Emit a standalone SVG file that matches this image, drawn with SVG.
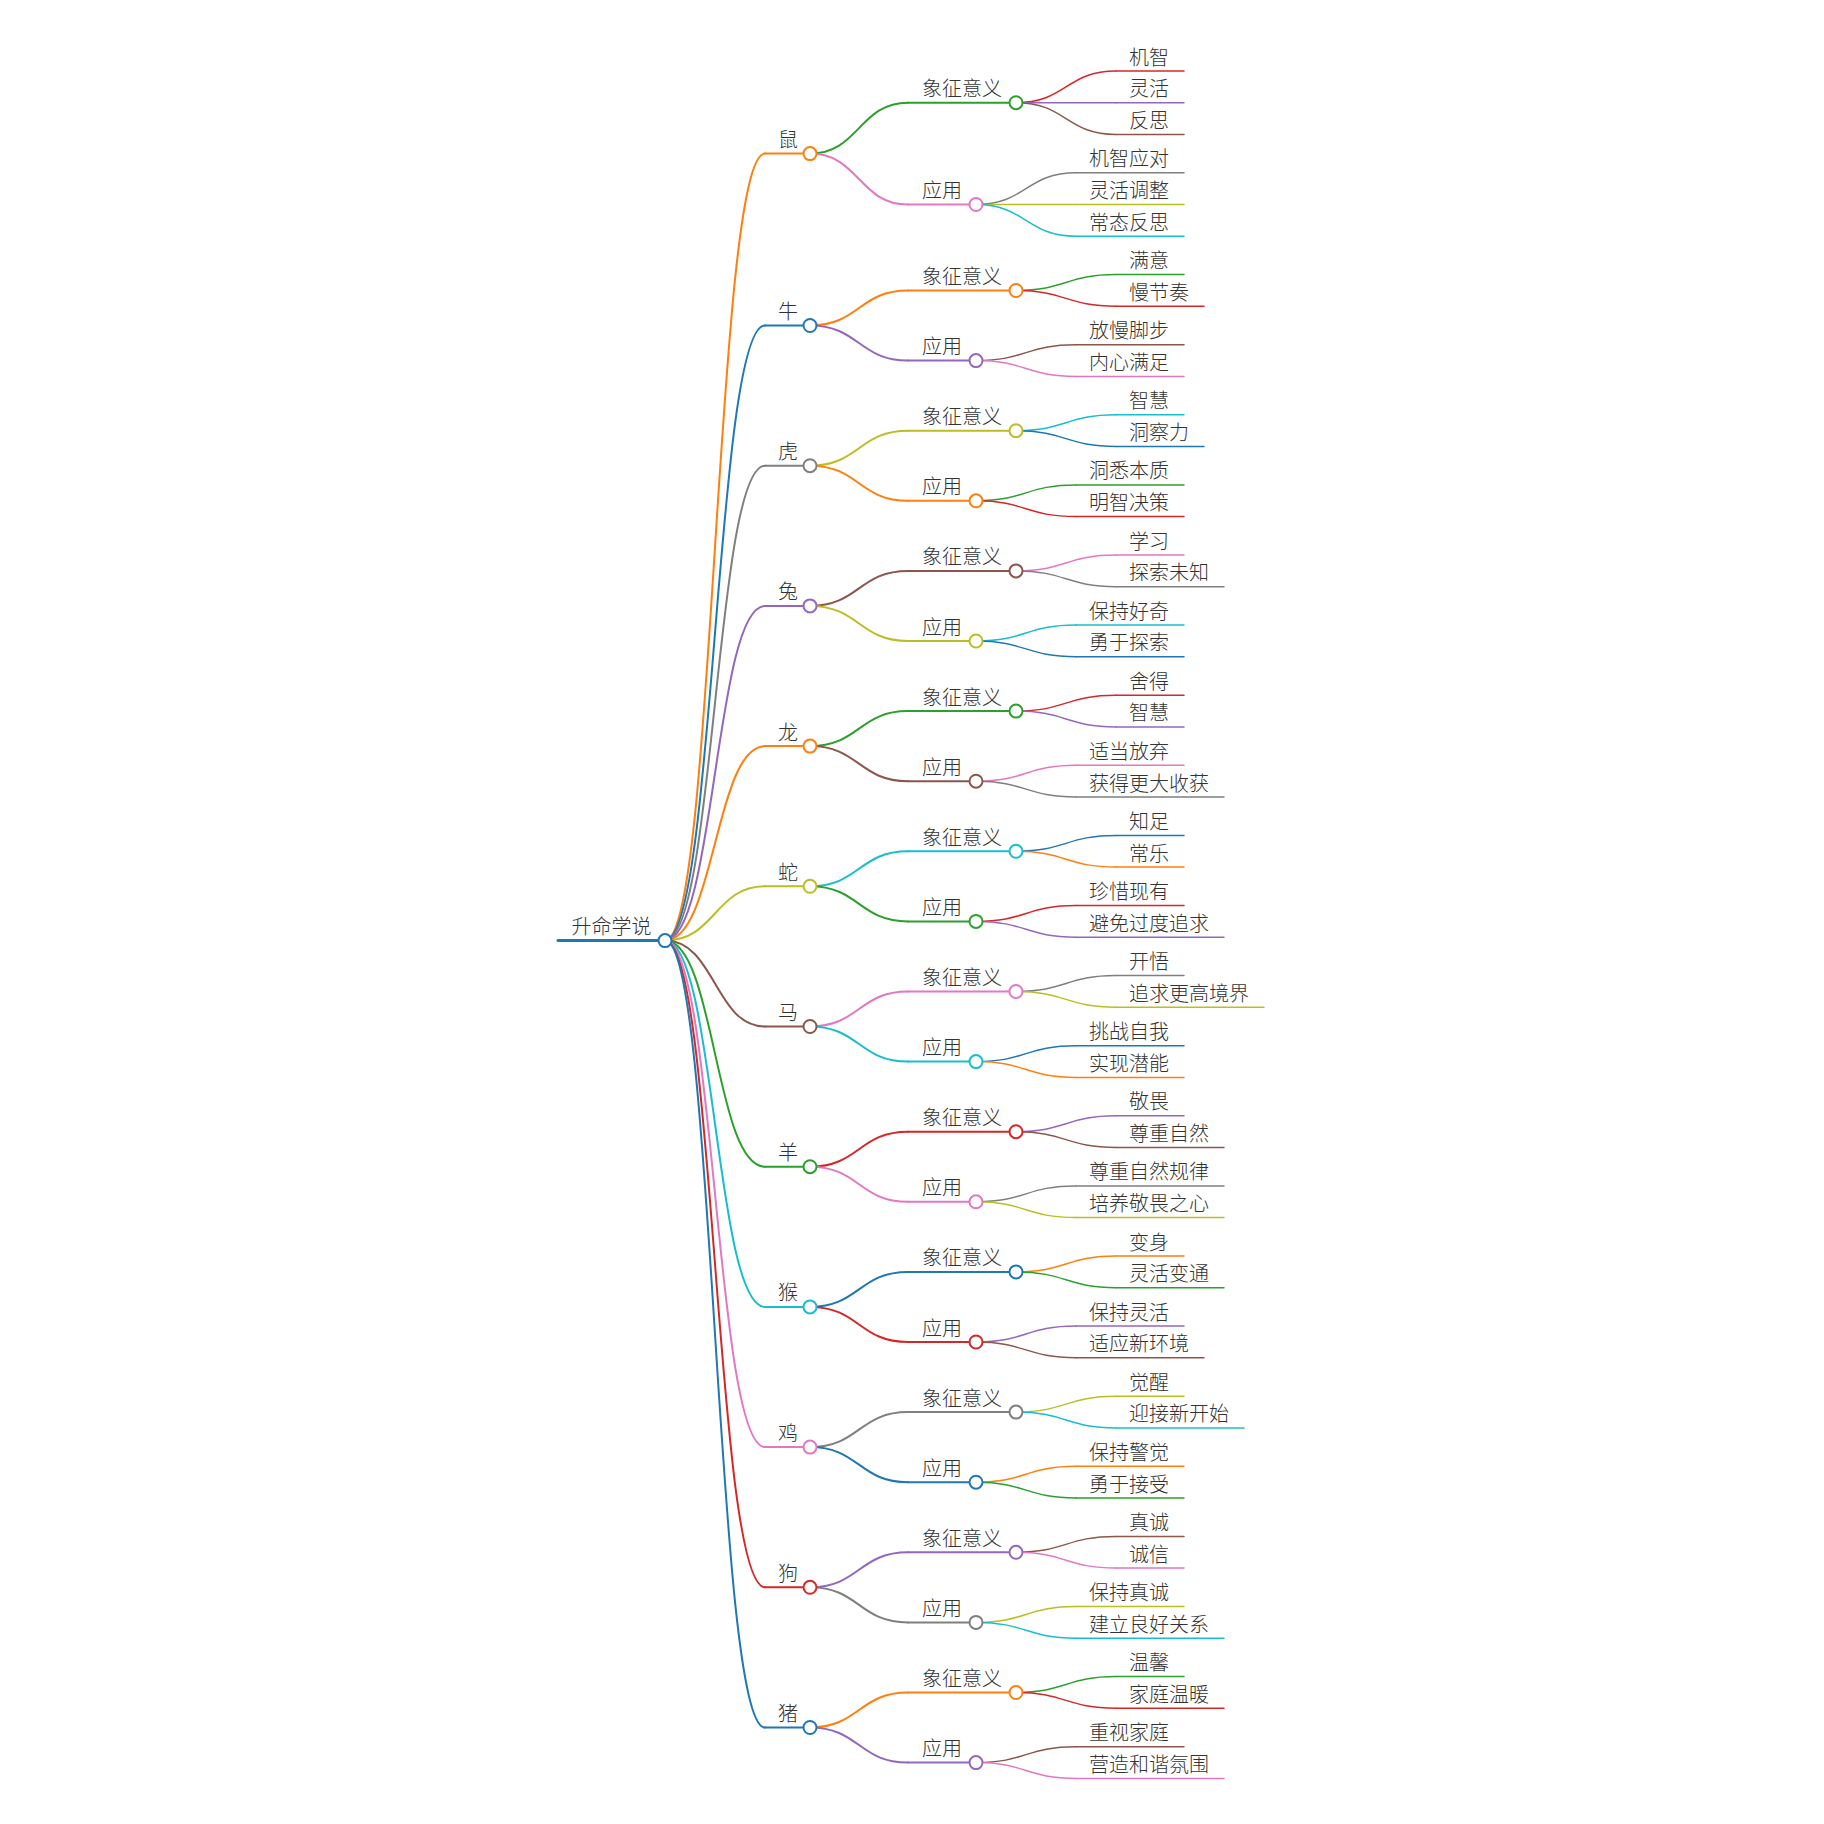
<svg xmlns="http://www.w3.org/2000/svg" width="1824" height="1824" viewBox="0 0 1824 1824">
<style>
.t{font-family:"Noto Sans CJK SC","Noto Sans",sans-serif;font-size:20px;font-weight:300;fill:#333}
path{fill:none;stroke-linecap:round}
circle{fill:#fff;stroke-width:2}
.k path{stroke-width:2}
.k .lf{stroke-width:1.5}
.u1{stroke-width:3}
.u2{stroke-width:2}
.u3{stroke-width:1.5}
.c0{stroke:#1f77b4}.c1{stroke:#ff7f0e}.c2{stroke:#2ca02c}.c3{stroke:#d62728}.c4{stroke:#9467bd}
.c5{stroke:#8c564b}.c6{stroke:#e377c2}.c7{stroke:#7f7f7f}.c8{stroke:#bcbd22}.c9{stroke:#17becf}
</style>
<rect width="1824" height="1824" fill="#fff"/>
<g id="connectors" class="k">
<path class="c1" d="M665,940.6C715,940.6 715,153.6 765,153.6"/>
<path class="c0" d="M665,940.6C715,940.6 715,325.5 765,325.5"/>
<path class="c7" d="M665,940.6C715,940.6 715,465.7 765,465.7"/>
<path class="c4" d="M665,940.6C715,940.6 715,605.9 765,605.9"/>
<path class="c1" d="M665,940.6C715,940.6 715,746.1 765,746.1"/>
<path class="c8" d="M665,940.6C715,940.6 715,886.3 765,886.3"/>
<path class="c5" d="M665,940.6C715,940.6 715,1026.5 765,1026.5"/>
<path class="c2" d="M665,940.6C715,940.6 715,1166.7 765,1166.7"/>
<path class="c9" d="M665,940.6C715,940.6 715,1306.9 765,1306.9"/>
<path class="c6" d="M665,940.6C715,940.6 715,1447.1 765,1447.1"/>
<path class="c3" d="M665,940.6C715,940.6 715,1587.3 765,1587.3"/>
<path class="c0" d="M665,940.6C715,940.6 715,1727.5 765,1727.5"/>

<path class="c2" d="M810,153.6C859,153.6 859,102.7 908,102.7"/>
<path class="c6" d="M810,153.6C859,153.6 859,204.5 908,204.5"/>
<path class="c1" d="M810,325.5C859,325.5 859,290.5 908,290.5"/>
<path class="c4" d="M810,325.5C859,325.5 859,360.6 908,360.6"/>
<path class="c8" d="M810,465.7C859,465.7 859,430.7 908,430.7"/>
<path class="c1" d="M810,465.7C859,465.7 859,500.8 908,500.8"/>
<path class="c5" d="M810,605.9C859,605.9 859,570.9 908,570.9"/>
<path class="c8" d="M810,605.9C859,605.9 859,641 908,641"/>
<path class="c2" d="M810,746.1C859,746.1 859,711.1 908,711.1"/>
<path class="c5" d="M810,746.1C859,746.1 859,781.2 908,781.2"/>
<path class="c9" d="M810,886.3C859,886.3 859,851.3 908,851.3"/>
<path class="c2" d="M810,886.3C859,886.3 859,921.4 908,921.4"/>
<path class="c6" d="M810,1026.5C859,1026.5 859,991.5 908,991.5"/>
<path class="c9" d="M810,1026.5C859,1026.5 859,1061.6 908,1061.6"/>
<path class="c3" d="M810,1166.7C859,1166.7 859,1131.7 908,1131.7"/>
<path class="c6" d="M810,1166.7C859,1166.7 859,1201.8 908,1201.8"/>
<path class="c0" d="M810,1306.9C859,1306.9 859,1271.9 908,1271.9"/>
<path class="c3" d="M810,1306.9C859,1306.9 859,1342 908,1342"/>
<path class="c7" d="M810,1447.1C859,1447.1 859,1412.1 908,1412.1"/>
<path class="c0" d="M810,1447.1C859,1447.1 859,1482.2 908,1482.2"/>
<path class="c4" d="M810,1587.3C859,1587.3 859,1552.3 908,1552.3"/>
<path class="c7" d="M810,1587.3C859,1587.3 859,1622.4 908,1622.4"/>
<path class="c1" d="M810,1727.5C859,1727.5 859,1692.5 908,1692.5"/>
<path class="c4" d="M810,1727.5C859,1727.5 859,1762.6 908,1762.6"/>

<path class="lf c3" d="M1016,102.7C1066,102.7 1066,71 1116,71"/>
<path class="lf c4" d="M1016,102.7C1066,102.7 1066,102.7 1116,102.7"/>
<path class="lf c5" d="M1016,102.7C1066,102.7 1066,134.4 1116,134.4"/>
<path class="lf c7" d="M976,204.5C1026,204.5 1026,172.8 1076,172.8"/>
<path class="lf c8" d="M976,204.5C1026,204.5 1026,204.5 1076,204.5"/>
<path class="lf c9" d="M976,204.5C1026,204.5 1026,236.2 1076,236.2"/>
<path class="lf c2" d="M1016,290.5C1066,290.5 1066,274.6 1116,274.6"/>
<path class="lf c3" d="M1016,290.5C1066,290.5 1066,306.3 1116,306.3"/>
<path class="lf c5" d="M976,360.6C1026,360.6 1026,344.7 1076,344.7"/>
<path class="lf c6" d="M976,360.6C1026,360.6 1026,376.4 1076,376.4"/>
<path class="lf c9" d="M1016,430.7C1066,430.7 1066,414.8 1116,414.8"/>
<path class="lf c0" d="M1016,430.7C1066,430.7 1066,446.5 1116,446.5"/>
<path class="lf c2" d="M976,500.8C1026,500.8 1026,484.9 1076,484.9"/>
<path class="lf c3" d="M976,500.8C1026,500.8 1026,516.6 1076,516.6"/>
<path class="lf c6" d="M1016,570.9C1066,570.9 1066,555 1116,555"/>
<path class="lf c7" d="M1016,570.9C1066,570.9 1066,586.7 1116,586.7"/>
<path class="lf c9" d="M976,641C1026,641 1026,625.1 1076,625.1"/>
<path class="lf c0" d="M976,641C1026,641 1026,656.8 1076,656.8"/>
<path class="lf c3" d="M1016,711.1C1066,711.1 1066,695.2 1116,695.2"/>
<path class="lf c4" d="M1016,711.1C1066,711.1 1066,726.9 1116,726.9"/>
<path class="lf c6" d="M976,781.2C1026,781.2 1026,765.3 1076,765.3"/>
<path class="lf c7" d="M976,781.2C1026,781.2 1026,797 1076,797"/>
<path class="lf c0" d="M1016,851.3C1066,851.3 1066,835.4 1116,835.4"/>
<path class="lf c1" d="M1016,851.3C1066,851.3 1066,867.1 1116,867.1"/>
<path class="lf c3" d="M976,921.4C1026,921.4 1026,905.5 1076,905.5"/>
<path class="lf c4" d="M976,921.4C1026,921.4 1026,937.2 1076,937.2"/>
<path class="lf c7" d="M1016,991.5C1066,991.5 1066,975.6 1116,975.6"/>
<path class="lf c8" d="M1016,991.5C1066,991.5 1066,1007.3 1116,1007.3"/>
<path class="lf c0" d="M976,1061.6C1026,1061.6 1026,1045.7 1076,1045.7"/>
<path class="lf c1" d="M976,1061.6C1026,1061.6 1026,1077.4 1076,1077.4"/>
<path class="lf c4" d="M1016,1131.7C1066,1131.7 1066,1115.8 1116,1115.8"/>
<path class="lf c5" d="M1016,1131.7C1066,1131.7 1066,1147.5 1116,1147.5"/>
<path class="lf c7" d="M976,1201.8C1026,1201.8 1026,1185.9 1076,1185.9"/>
<path class="lf c8" d="M976,1201.8C1026,1201.8 1026,1217.6 1076,1217.6"/>
<path class="lf c1" d="M1016,1271.9C1066,1271.9 1066,1256 1116,1256"/>
<path class="lf c2" d="M1016,1271.9C1066,1271.9 1066,1287.7 1116,1287.7"/>
<path class="lf c4" d="M976,1342C1026,1342 1026,1326.1 1076,1326.1"/>
<path class="lf c5" d="M976,1342C1026,1342 1026,1357.8 1076,1357.8"/>
<path class="lf c8" d="M1016,1412.1C1066,1412.1 1066,1396.2 1116,1396.2"/>
<path class="lf c9" d="M1016,1412.1C1066,1412.1 1066,1427.9 1116,1427.9"/>
<path class="lf c1" d="M976,1482.2C1026,1482.2 1026,1466.3 1076,1466.3"/>
<path class="lf c2" d="M976,1482.2C1026,1482.2 1026,1498 1076,1498"/>
<path class="lf c5" d="M1016,1552.3C1066,1552.3 1066,1536.4 1116,1536.4"/>
<path class="lf c6" d="M1016,1552.3C1066,1552.3 1066,1568.1 1116,1568.1"/>
<path class="lf c8" d="M976,1622.4C1026,1622.4 1026,1606.5 1076,1606.5"/>
<path class="lf c9" d="M976,1622.4C1026,1622.4 1026,1638.2 1076,1638.2"/>
<path class="lf c2" d="M1016,1692.5C1066,1692.5 1066,1676.6 1116,1676.6"/>
<path class="lf c3" d="M1016,1692.5C1066,1692.5 1066,1708.3 1116,1708.3"/>
<path class="lf c5" d="M976,1762.6C1026,1762.6 1026,1746.7 1076,1746.7"/>
<path class="lf c6" d="M976,1762.6C1026,1762.6 1026,1778.4 1076,1778.4"/>
</g>

<g id="root"><path class="c0 u1" d="M558,940.6H665"/><circle class="c0" cx="665" cy="940.6" r="6.5"/><text class="t" x="571.5" y="934.1">升命学说</text></g>

<g id="n-shu"><path class="c1 u2" d="M765,153.6H810"/><circle class="c1" cx="810" cy="153.6" r="6.5"/><text class="t" x="778" y="147.1">鼠</text></g>
<g id="n-niu"><path class="c0 u2" d="M765,325.5H810"/><circle class="c0" cx="810" cy="325.5" r="6.5"/><text class="t" x="778" y="319">牛</text></g>
<g id="n-hu"><path class="c7 u2" d="M765,465.7H810"/><circle class="c7" cx="810" cy="465.7" r="6.5"/><text class="t" x="778" y="459.2">虎</text></g>
<g id="n-tu"><path class="c4 u2" d="M765,605.9H810"/><circle class="c4" cx="810" cy="605.9" r="6.5"/><text class="t" x="778" y="599.4">兔</text></g>
<g id="n-long"><path class="c1 u2" d="M765,746.1H810"/><circle class="c1" cx="810" cy="746.1" r="6.5"/><text class="t" x="778" y="739.6">龙</text></g>
<g id="n-she"><path class="c8 u2" d="M765,886.3H810"/><circle class="c8" cx="810" cy="886.3" r="6.5"/><text class="t" x="778" y="879.8">蛇</text></g>
<g id="n-ma"><path class="c5 u2" d="M765,1026.5H810"/><circle class="c5" cx="810" cy="1026.5" r="6.5"/><text class="t" x="778" y="1020">马</text></g>
<g id="n-yang"><path class="c2 u2" d="M765,1166.7H810"/><circle class="c2" cx="810" cy="1166.7" r="6.5"/><text class="t" x="778" y="1160.2">羊</text></g>
<g id="n-hou"><path class="c9 u2" d="M765,1306.9H810"/><circle class="c9" cx="810" cy="1306.9" r="6.5"/><text class="t" x="778" y="1300.4">猴</text></g>
<g id="n-ji"><path class="c6 u2" d="M765,1447.1H810"/><circle class="c6" cx="810" cy="1447.1" r="6.5"/><text class="t" x="778" y="1440.6">鸡</text></g>
<g id="n-gou"><path class="c3 u2" d="M765,1587.3H810"/><circle class="c3" cx="810" cy="1587.3" r="6.5"/><text class="t" x="778" y="1580.8">狗</text></g>
<g id="n-zhu"><path class="c0 u2" d="M765,1727.5H810"/><circle class="c0" cx="810" cy="1727.5" r="6.5"/><text class="t" x="778" y="1721">猪</text></g>

<g id="n-shu-x"><path class="c2 u2" d="M908,102.7H1016"/><circle class="c2" cx="1016" cy="102.7" r="6.5"/><text class="t" x="922" y="96.2">象征意义</text></g>
<g id="n-shu-y"><path class="c6 u2" d="M908,204.5H976"/><circle class="c6" cx="976" cy="204.5" r="6.5"/><text class="t" x="922" y="198">应用</text></g>
<g id="n-niu-x"><path class="c1 u2" d="M908,290.5H1016"/><circle class="c1" cx="1016" cy="290.5" r="6.5"/><text class="t" x="922" y="284">象征意义</text></g>
<g id="n-niu-y"><path class="c4 u2" d="M908,360.6H976"/><circle class="c4" cx="976" cy="360.6" r="6.5"/><text class="t" x="922" y="354.1">应用</text></g>
<g id="n-hu-x"><path class="c8 u2" d="M908,430.7H1016"/><circle class="c8" cx="1016" cy="430.7" r="6.5"/><text class="t" x="922" y="424.2">象征意义</text></g>
<g id="n-hu-y"><path class="c1 u2" d="M908,500.8H976"/><circle class="c1" cx="976" cy="500.8" r="6.5"/><text class="t" x="922" y="494.3">应用</text></g>
<g id="n-tu-x"><path class="c5 u2" d="M908,570.9H1016"/><circle class="c5" cx="1016" cy="570.9" r="6.5"/><text class="t" x="922" y="564.4">象征意义</text></g>
<g id="n-tu-y"><path class="c8 u2" d="M908,641H976"/><circle class="c8" cx="976" cy="641" r="6.5"/><text class="t" x="922" y="634.5">应用</text></g>
<g id="n-long-x"><path class="c2 u2" d="M908,711.1H1016"/><circle class="c2" cx="1016" cy="711.1" r="6.5"/><text class="t" x="922" y="704.6">象征意义</text></g>
<g id="n-long-y"><path class="c5 u2" d="M908,781.2H976"/><circle class="c5" cx="976" cy="781.2" r="6.5"/><text class="t" x="922" y="774.7">应用</text></g>
<g id="n-she-x"><path class="c9 u2" d="M908,851.3H1016"/><circle class="c9" cx="1016" cy="851.3" r="6.5"/><text class="t" x="922" y="844.8">象征意义</text></g>
<g id="n-she-y"><path class="c2 u2" d="M908,921.4H976"/><circle class="c2" cx="976" cy="921.4" r="6.5"/><text class="t" x="922" y="914.9">应用</text></g>
<g id="n-ma-x"><path class="c6 u2" d="M908,991.5H1016"/><circle class="c6" cx="1016" cy="991.5" r="6.5"/><text class="t" x="922" y="985">象征意义</text></g>
<g id="n-ma-y"><path class="c9 u2" d="M908,1061.6H976"/><circle class="c9" cx="976" cy="1061.6" r="6.5"/><text class="t" x="922" y="1055.1">应用</text></g>
<g id="n-yang-x"><path class="c3 u2" d="M908,1131.7H1016"/><circle class="c3" cx="1016" cy="1131.7" r="6.5"/><text class="t" x="922" y="1125.2">象征意义</text></g>
<g id="n-yang-y"><path class="c6 u2" d="M908,1201.8H976"/><circle class="c6" cx="976" cy="1201.8" r="6.5"/><text class="t" x="922" y="1195.3">应用</text></g>
<g id="n-hou-x"><path class="c0 u2" d="M908,1271.9H1016"/><circle class="c0" cx="1016" cy="1271.9" r="6.5"/><text class="t" x="922" y="1265.4">象征意义</text></g>
<g id="n-hou-y"><path class="c3 u2" d="M908,1342H976"/><circle class="c3" cx="976" cy="1342" r="6.5"/><text class="t" x="922" y="1335.5">应用</text></g>
<g id="n-ji-x"><path class="c7 u2" d="M908,1412.1H1016"/><circle class="c7" cx="1016" cy="1412.1" r="6.5"/><text class="t" x="922" y="1405.6">象征意义</text></g>
<g id="n-ji-y"><path class="c0 u2" d="M908,1482.2H976"/><circle class="c0" cx="976" cy="1482.2" r="6.5"/><text class="t" x="922" y="1475.7">应用</text></g>
<g id="n-gou-x"><path class="c4 u2" d="M908,1552.3H1016"/><circle class="c4" cx="1016" cy="1552.3" r="6.5"/><text class="t" x="922" y="1545.8">象征意义</text></g>
<g id="n-gou-y"><path class="c7 u2" d="M908,1622.4H976"/><circle class="c7" cx="976" cy="1622.4" r="6.5"/><text class="t" x="922" y="1615.9">应用</text></g>
<g id="n-zhu-x"><path class="c1 u2" d="M908,1692.5H1016"/><circle class="c1" cx="1016" cy="1692.5" r="6.5"/><text class="t" x="922" y="1686">象征意义</text></g>
<g id="n-zhu-y"><path class="c4 u2" d="M908,1762.6H976"/><circle class="c4" cx="976" cy="1762.6" r="6.5"/><text class="t" x="922" y="1756.1">应用</text></g>

<g id="l01"><path class="c3 u3" d="M1116,71H1184"/><text class="t" x="1129" y="64.5">机智</text></g>
<g id="l02"><path class="c4 u3" d="M1116,102.7H1184"/><text class="t" x="1129" y="96.2">灵活</text></g>
<g id="l03"><path class="c5 u3" d="M1116,134.4H1184"/><text class="t" x="1129" y="127.9">反思</text></g>
<g id="l04"><path class="c7 u3" d="M1076,172.8H1184"/><text class="t" x="1089" y="166.3">机智应对</text></g>
<g id="l05"><path class="c8 u3" d="M1076,204.5H1184"/><text class="t" x="1089" y="198">灵活调整</text></g>
<g id="l06"><path class="c9 u3" d="M1076,236.2H1184"/><text class="t" x="1089" y="229.7">常态反思</text></g>
<g id="l07"><path class="c2 u3" d="M1116,274.6H1184"/><text class="t" x="1129" y="268.1">满意</text></g>
<g id="l08"><path class="c3 u3" d="M1116,306.3H1204"/><text class="t" x="1129" y="299.8">慢节奏</text></g>
<g id="l09"><path class="c5 u3" d="M1076,344.7H1184"/><text class="t" x="1089" y="338.2">放慢脚步</text></g>
<g id="l10"><path class="c6 u3" d="M1076,376.4H1184"/><text class="t" x="1089" y="369.9">内心满足</text></g>
<g id="l11"><path class="c9 u3" d="M1116,414.8H1184"/><text class="t" x="1129" y="408.3">智慧</text></g>
<g id="l12"><path class="c0 u3" d="M1116,446.5H1204"/><text class="t" x="1129" y="440">洞察力</text></g>
<g id="l13"><path class="c2 u3" d="M1076,484.9H1184"/><text class="t" x="1089" y="478.4">洞悉本质</text></g>
<g id="l14"><path class="c3 u3" d="M1076,516.6H1184"/><text class="t" x="1089" y="510.1">明智决策</text></g>
<g id="l15"><path class="c6 u3" d="M1116,555H1184"/><text class="t" x="1129" y="548.5">学习</text></g>
<g id="l16"><path class="c7 u3" d="M1116,586.7H1224"/><text class="t" x="1129" y="580.2">探索未知</text></g>
<g id="l17"><path class="c9 u3" d="M1076,625.1H1184"/><text class="t" x="1089" y="618.6">保持好奇</text></g>
<g id="l18"><path class="c0 u3" d="M1076,656.8H1184"/><text class="t" x="1089" y="650.3">勇于探索</text></g>
<g id="l19"><path class="c3 u3" d="M1116,695.2H1184"/><text class="t" x="1129" y="688.7">舍得</text></g>
<g id="l20"><path class="c4 u3" d="M1116,726.9H1184"/><text class="t" x="1129" y="720.4">智慧</text></g>
<g id="l21"><path class="c6 u3" d="M1076,765.3H1184"/><text class="t" x="1089" y="758.8">适当放弃</text></g>
<g id="l22"><path class="c7 u3" d="M1076,797H1224"/><text class="t" x="1089" y="790.5">获得更大收获</text></g>
<g id="l23"><path class="c0 u3" d="M1116,835.4H1184"/><text class="t" x="1129" y="828.9">知足</text></g>
<g id="l24"><path class="c1 u3" d="M1116,867.1H1184"/><text class="t" x="1129" y="860.6">常乐</text></g>
<g id="l25"><path class="c3 u3" d="M1076,905.5H1184"/><text class="t" x="1089" y="899">珍惜现有</text></g>
<g id="l26"><path class="c4 u3" d="M1076,937.2H1224"/><text class="t" x="1089" y="930.7">避免过度追求</text></g>
<g id="l27"><path class="c7 u3" d="M1116,975.6H1184"/><text class="t" x="1129" y="969.1">开悟</text></g>
<g id="l28"><path class="c8 u3" d="M1116,1007.3H1264"/><text class="t" x="1129" y="1000.8">追求更高境界</text></g>
<g id="l29"><path class="c0 u3" d="M1076,1045.7H1184"/><text class="t" x="1089" y="1039.2">挑战自我</text></g>
<g id="l30"><path class="c1 u3" d="M1076,1077.4H1184"/><text class="t" x="1089" y="1070.9">实现潜能</text></g>
<g id="l31"><path class="c4 u3" d="M1116,1115.8H1184"/><text class="t" x="1129" y="1109.3">敬畏</text></g>
<g id="l32"><path class="c5 u3" d="M1116,1147.5H1224"/><text class="t" x="1129" y="1141">尊重自然</text></g>
<g id="l33"><path class="c7 u3" d="M1076,1185.9H1224"/><text class="t" x="1089" y="1179.4">尊重自然规律</text></g>
<g id="l34"><path class="c8 u3" d="M1076,1217.6H1224"/><text class="t" x="1089" y="1211.1">培养敬畏之心</text></g>
<g id="l35"><path class="c1 u3" d="M1116,1256H1184"/><text class="t" x="1129" y="1249.5">变身</text></g>
<g id="l36"><path class="c2 u3" d="M1116,1287.7H1224"/><text class="t" x="1129" y="1281.2">灵活变通</text></g>
<g id="l37"><path class="c4 u3" d="M1076,1326.1H1184"/><text class="t" x="1089" y="1319.6">保持灵活</text></g>
<g id="l38"><path class="c5 u3" d="M1076,1357.8H1204"/><text class="t" x="1089" y="1351.3">适应新环境</text></g>
<g id="l39"><path class="c8 u3" d="M1116,1396.2H1184"/><text class="t" x="1129" y="1389.7">觉醒</text></g>
<g id="l40"><path class="c9 u3" d="M1116,1427.9H1244"/><text class="t" x="1129" y="1421.4">迎接新开始</text></g>
<g id="l41"><path class="c1 u3" d="M1076,1466.3H1184"/><text class="t" x="1089" y="1459.8">保持警觉</text></g>
<g id="l42"><path class="c2 u3" d="M1076,1498H1184"/><text class="t" x="1089" y="1491.5">勇于接受</text></g>
<g id="l43"><path class="c5 u3" d="M1116,1536.4H1184"/><text class="t" x="1129" y="1529.9">真诚</text></g>
<g id="l44"><path class="c6 u3" d="M1116,1568.1H1184"/><text class="t" x="1129" y="1561.6">诚信</text></g>
<g id="l45"><path class="c8 u3" d="M1076,1606.5H1184"/><text class="t" x="1089" y="1600">保持真诚</text></g>
<g id="l46"><path class="c9 u3" d="M1076,1638.2H1224"/><text class="t" x="1089" y="1631.7">建立良好关系</text></g>
<g id="l47"><path class="c2 u3" d="M1116,1676.6H1184"/><text class="t" x="1129" y="1670.1">温馨</text></g>
<g id="l48"><path class="c3 u3" d="M1116,1708.3H1224"/><text class="t" x="1129" y="1701.8">家庭温暖</text></g>
<g id="l49"><path class="c5 u3" d="M1076,1746.7H1184"/><text class="t" x="1089" y="1740.2">重视家庭</text></g>
<g id="l50"><path class="c6 u3" d="M1076,1778.4H1224"/><text class="t" x="1089" y="1771.9">营造和谐氛围</text></g>
</svg>
